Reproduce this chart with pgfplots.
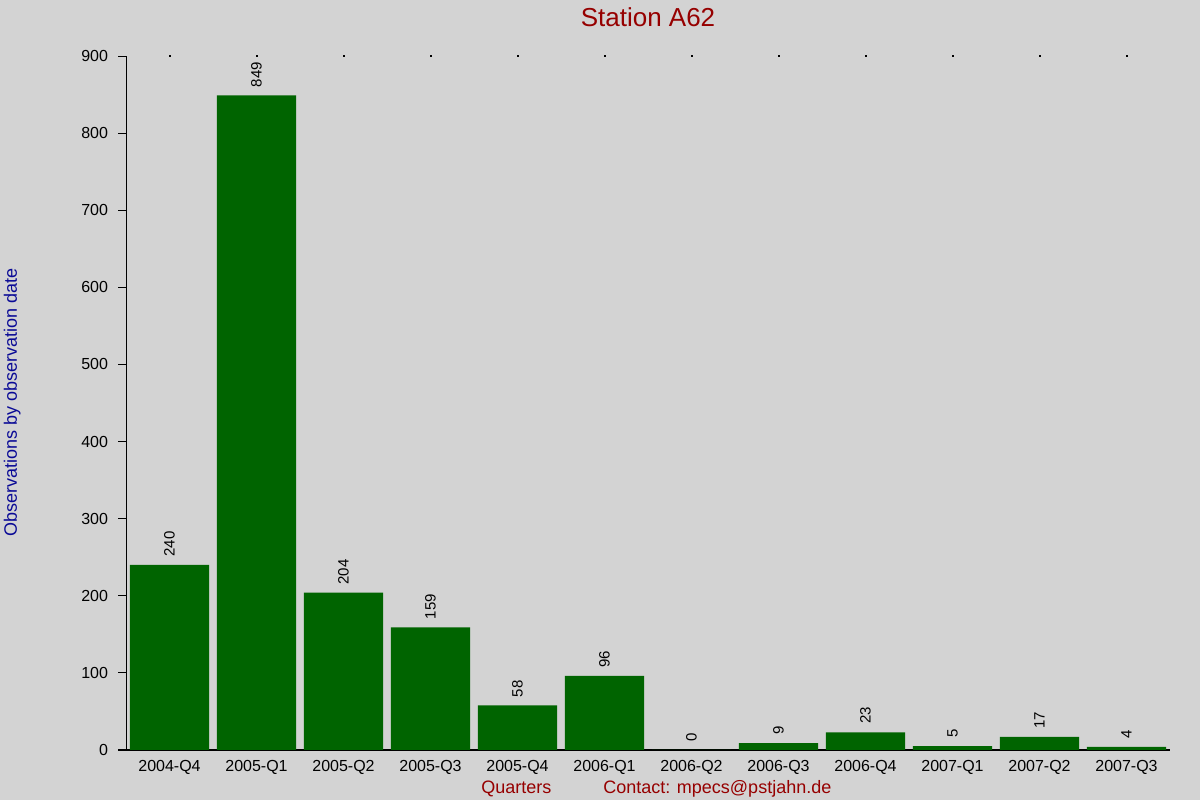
\documentclass[border=0pt]{standalone}
\usepackage{fontspec}
\setmainfont{Liberation Sans}
\usepackage{pgfplots}
\pgfplotsset{compat=1.18}
\definecolor{bg}{RGB}{211,211,211}
\definecolor{bargreen}{RGB}{0,100,0}
\definecolor{titlered}{RGB}{150,0,0}
\definecolor{labelblue}{RGB}{10,10,150}

\begin{document}
\begin{tikzpicture}[x=0.75pt,y=0.75pt]
\fill[bg] (0,0) rectangle (1200,800);
\useasboundingbox (0,0) rectangle (1200,800);
\coordinate (corner) at (126,50);
\begin{axis}[
  at={(corner)}, anchor=south west,
  scale only axis,
  width=783pt, height=520.5pt,
  xmin=-0.5, xmax=11.5,
  ymin=0, ymax=900,
  axis lines=left,
  axis line style={-, black, line width=0.75pt},
  clip=false,
  xtick={0,...,11},
  xticklabels={2004-Q4,2005-Q1,2005-Q2,2005-Q3,2005-Q4,2006-Q1,2006-Q2,2006-Q3,2006-Q4,2007-Q1,2007-Q2,2007-Q3},
  major x tick style={draw=none},
  ytick={0,100,...,900},
  tick align=outside,
  major tick length=6pt,
  major y tick style={black, line width=0.75pt},
  tick label style={font=\fontsize{12}{14}\selectfont, black},
  /pgf/number format/assume math mode=true,
  xticklabel style={yshift=2pt},
  yticklabel style={xshift=-4pt},
]
\addplot[ybar, bar width=59.5pt, fill=bargreen, draw=none,
  nodes near coords,
  nodes near coords style={rotate=90, anchor=west, inner sep=6pt, black,
    font=\fontsize{11.25}{13}\selectfont, /pgf/number format/assume math mode=true}]
coordinates {
(0,240)(1,849)(2,204)(3,159)(4,58)(5,96)(6,0)(7,9)(8,23)(9,5)(10,17)(11,4)};
\addplot[only marks, mark=square*, mark size=0.25pt, black]
coordinates {
(0,900)(1,900)(2,900)(3,900)(4,900)(5,900)(6,900)(7,900)(8,900)(9,900)(10,900)(11,900)};
\end{axis}
\node[anchor=base, text=titlered, font=\fontsize{19.5}{22}\selectfont, inner sep=0pt] at (648,773) {Station A62};
\node[anchor=base, rotate=90, text=labelblue, font=\fontsize{13.5}{16}\selectfont, inner sep=0pt] at (17,397.5) {Observations by observation date};
\node[anchor=base west, text=titlered, font=\fontsize{13.5}{16}\selectfont, inner sep=0pt] at (481,7) {Quarters};
\node[anchor=base west, text=titlered, font=\fontsize{13.5}{16}\selectfont, inner sep=0pt] at (603,7) {Contact: mpecs@pstjahn.de};
\end{tikzpicture}
\end{document}
